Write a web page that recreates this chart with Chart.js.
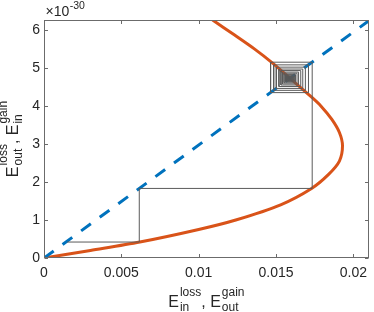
<!DOCTYPE html>
<html lang="en">
<head>
<meta charset="UTF-8">
<title>Cobweb</title>
<script src="https://cdn.jsdelivr.net/npm/chart.js"></script>
<style>
  html, body { margin: 0; padding: 0; background: #fff; }
  #wrap { width: 374px; height: 312px; }
</style>
</head>
<body>
<div id="wrap"><canvas id="chart" width="374" height="312"></canvas></div>
<script>
// y values are in units of 10^-30
const yExponent = '-30';
const xTicks = [0, 0.005, 0.01, 0.015, 0.02];
const yTicks = [0, 1, 2, 3, 4, 5, 6];
const xMax = 0.021;
const yMax = 6.26;

// orange curve
const curveX = [0, 0.0030, 0.0062, 0.0100, 0.0124, 0.0153, 0.0173, 0.0184, 0.0191, 0.0193, 0.0191, 0.0186, 0.0179, 0.01725, 0.0159, 0.0148, 0.0136, 0.0123, 0.0109];
const curveY = [0, 0.20, 0.42, 0.75, 1.00, 1.40, 1.83, 2.20, 2.55, 2.95, 3.30, 3.65, 4.00, 4.25, 4.73, 5.12, 5.50, 5.87, 6.26];

// blue dashed line
const lineX = [0, 0.021];
const lineY = [0, 6.24];

// cobweb: x levels and y levels of the staircase
const cobX = [0.0015, 0.00616, 0.01734, 0.01465, 0.01710, 0.01485, 0.01690, 0.01502, 0.01673, 0.01519, 0.01660,
              0.01532, 0.01646, 0.01542, 0.01636, 0.01552, 0.01626, 0.01562, 0.01620, 0.01569, 0.01613,
              0.01572, 0.01609, 0.01576, 0.01606, 0.01579, 0.01603, 0.01582, 0.01599, 0.01586, 0.01596, 0.01589, 0.01593];
const cobY = [0.42, 1.83, 5.15, 4.35, 5.08, 4.41, 5.02, 4.46, 4.97, 4.51, 4.93,
              4.55, 4.89, 4.58, 4.86, 4.61, 4.83, 4.64, 4.81, 4.66, 4.79,
              4.67, 4.78, 4.68, 4.77, 4.69, 4.76, 4.70, 4.75, 4.71, 4.74, 4.72, 4.73];

const FONT = '"Liberation Sans", Arial, Helvetica, sans-serif';
const TXT = '#262626';

function zipPts(xs, ys) {
    return xs.map((x, i) => ({ x: x, y: ys[i] }));
}

let cobPts = [{ x: cobX[0], y: cobY[0] }];
for (let n = 1; n < cobX.length; n++) {
    cobPts.push({ x: cobX[n], y: cobY[n - 1] });
    cobPts.push({ x: cobX[n], y: cobY[n] });
}

// E with stacked super/subscript
function termWidth(ctx, t) {
    if (typeof t === 'string') { ctx.font = '16px ' + FONT; return ctx.measureText(t).width; }
    ctx.font = '16px ' + FONT;
    let w = ctx.measureText(t.base).width;
    ctx.font = '12px ' + FONT;
    return w + 1 + Math.max(ctx.measureText(t.sup).width, ctx.measureText(t.sub).width);
}
function drawTerms(ctx, terms, x0, base) {
    let x = x0;
    terms.forEach(t => {
        if (typeof t === 'string') {
            ctx.font = '16px ' + FONT;
            ctx.fillText(t, x, base);
            x += ctx.measureText(t).width;
            return;
        }
        ctx.font = '16px ' + FONT;
        ctx.fillText(t.base, x, base);
        let bw = ctx.measureText(t.base).width + 1;
        ctx.font = '12px ' + FONT;
        ctx.fillText(t.sup, x + bw, base - 11);
        ctx.fillText(t.sub, x + bw, base + 4);
        x += bw + Math.max(ctx.measureText(t.sup).width, ctx.measureText(t.sub).width);
    });
}
const xTitle = [{ base: 'E', sup: 'loss', sub: 'in' }, ', ', { base: 'E', sup: 'gain', sub: 'out' }];
const yTitle = [{ base: 'E', sup: 'loss', sub: 'out' }, ', ', { base: 'E', sup: 'gain', sub: 'in' }];

const frame = {
    id: 'frame',
    afterDatasetsDraw(chart) {
        const ctx = chart.ctx, a = chart.chartArea, sx = chart.scales.x, sy = chart.scales.y;
        const L = Math.round(a.left) + 0.5, R = Math.round(a.right) - 0.5;
        const T = Math.round(a.top) + 0.5, B = Math.round(a.bottom) - 0.5;
        ctx.save();
        ctx.strokeStyle = '#6b6b6b';
        ctx.lineWidth = 1;
        ctx.strokeRect(L, T, R - L, B - T);
        ctx.beginPath();
        xTicks.forEach(v => {
            const px = Math.round(sx.getPixelForValue(v)) + 0.5;
            ctx.moveTo(px, B); ctx.lineTo(px, B - 3.5);
            ctx.moveTo(px, T); ctx.lineTo(px, T + 3.5);
        });
        yTicks.forEach(v => {
            const py = Math.round(sy.getPixelForValue(v)) + 0.5;
            ctx.moveTo(L, py); ctx.lineTo(L + 3.5, py);
            ctx.moveTo(R, py); ctx.lineTo(R - 3.5, py);
        });
        ctx.stroke();

        ctx.fillStyle = TXT;
        ctx.textBaseline = 'alphabetic';
        ctx.textAlign = 'left';
        // exponent label
        ctx.font = '14px ' + FONT;
        ctx.fillText('\u00d710', 45.5, 16);
        const w10 = ctx.measureText('\u00d710').width;
        ctx.font = '10.5px ' + FONT;
        ctx.fillText(yExponent, 45.5 + w10 + 0.5, 9);

        // x title
        const cx = (a.left + a.right) / 2;
        const wx = xTitle.reduce((s, t) => s + termWidth(ctx, t), 0);
        drawTerms(ctx, xTitle, cx - wx / 2, 307);

        // y title, rotated
        const cy = (a.top + a.bottom) / 2;
        const wy = yTitle.reduce((s, t) => s + termWidth(ctx, t), 0);
        ctx.translate(18, cy);
        ctx.rotate(-Math.PI / 2);
        drawTerms(ctx, yTitle, -wy / 2, 0);
        ctx.restore();
    }
};

new Chart(document.getElementById('chart'), {
    type: 'scatter',
    data: {
        datasets: [
            {
                data: cobPts, showLine: true, borderColor: '#5a5a5a', borderWidth: 1,
                pointRadius: 0, tension: 0, clip: 0
            },
            {
                data: zipPts(lineX, lineY), showLine: true, borderColor: '#0072BD', borderWidth: 3,
                borderDash: [12, 11], pointRadius: 0, clip: 0
            },
            {
                data: zipPts(curveX, curveY), showLine: true, borderColor: '#D95319', borderWidth: 3,
                pointRadius: 0, tension: 0.3, clip: 0
            }
        ]
    },
    options: {
        responsive: false,
        animation: false,
        devicePixelRatio: 1,
        layout: { padding: { top: 20, right: 1, left: 0, bottom: 0 } },
        plugins: { legend: { display: false }, tooltip: { enabled: false } },
        scales: {
            x: {
                type: 'linear', min: 0, max: xMax,
                afterBuildTicks: s => { s.ticks = xTicks.map(v => ({ value: v })); },
                afterFit: s => { s.height = 54; },
                grid: { display: false, drawTicks: false },
                border: { display: false },
                ticks: {
                    padding: 7, color: TXT, font: { family: FONT, size: 14 },
                    maxRotation: 0, autoSkip: false,
                    callback: v => String(+v.toFixed(3))
                }
            },
            y: {
                type: 'linear', min: 0, max: yMax,
                afterBuildTicks: s => { s.ticks = yTicks.map(v => ({ value: v })); },
                afterFit: s => { s.width = 44; },
                grid: { display: false, drawTicks: false },
                border: { display: false },
                ticks: {
                    padding: 4, color: TXT, font: { family: FONT, size: 14 },
                    autoSkip: false,
                    callback: v => String(v)
                }
            }
        }
    },
    plugins: [frame]
});
</script>
</body>
</html>
